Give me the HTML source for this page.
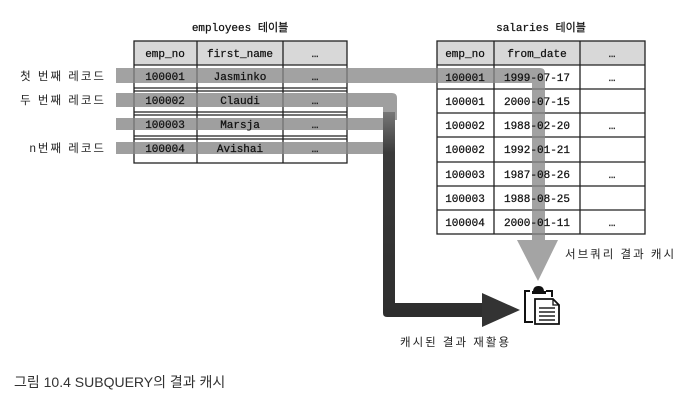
<!DOCTYPE html>
<html><head><meta charset="utf-8"><style>
html,body{margin:0;padding:0;background:#fff;}
svg{display:block;}
.m{font-family:"Liberation Mono","DejaVu Sans Mono",monospace;font-size:11px;fill:#111;stroke:#111;stroke-width:0.25;}
.k{font-family:"Liberation Sans","Noto Sans CJK KR",sans-serif;font-size:11.5px;fill:#222;letter-spacing:2px;}
</style></head><body>
<svg width="692" height="404" viewBox="0 0 692 404" xmlns="http://www.w3.org/2000/svg">
<defs>
<linearGradient id="dg" x1="0" y1="0" x2="0" y2="1">
<stop offset="0" stop-color="#777"/><stop offset="0.2" stop-color="#3a3a3a"/><stop offset="1" stop-color="#2e2e2e"/>
</linearGradient>
</defs>
<text x="240" y="31" text-anchor="middle" class="m" style="font-family:'Liberation Mono','Noto Sans CJK KR',monospace">employees 테이블</text>
<text x="541" y="31" text-anchor="middle" class="m" style="font-family:'Liberation Mono','Noto Sans CJK KR',monospace">salaries 테이블</text>

<rect x="134" y="41" width="213" height="24" fill="#d8d8d8"/>
<g stroke="#222" stroke-width="1.3" fill="none">
<rect x="134" y="41" width="213" height="122"/>
<line x1="134" y1="65" x2="347" y2="65"/>
<line x1="134" y1="88" x2="347" y2="88"/><line x1="134" y1="91" x2="347" y2="91"/>
<line x1="134" y1="112" x2="347" y2="112"/><line x1="134" y1="115" x2="347" y2="115"/>
<line x1="134" y1="136" x2="347" y2="136"/><line x1="134" y1="139" x2="347" y2="139"/>
<line x1="197" y1="41" x2="197" y2="163"/><line x1="283" y1="41" x2="283" y2="163"/>
</g>
<rect x="437" y="41" width="208" height="24" fill="#d8d8d8"/>
<g stroke="#222" stroke-width="1.3" fill="none">
<rect x="437" y="41" width="208" height="193"/>
<line x1="437" y1="65" x2="645" y2="65"/>
<line x1="437" y1="89" x2="645" y2="89"/>
<line x1="437" y1="113" x2="645" y2="113"/>
<line x1="437" y1="137" x2="645" y2="137"/>
<line x1="437" y1="162" x2="645" y2="162"/>
<line x1="437" y1="186" x2="645" y2="186"/>
<line x1="437" y1="210" x2="645" y2="210"/>
<line x1="494" y1="41" x2="494" y2="234"/><line x1="580" y1="41" x2="580" y2="234"/>
</g>

<g opacity="0.78">
<path d="M116 68 H540 Q545 68 545 73 V242 H532 V83 H116 Z" fill="#888"/>
</g>
<polygon points="517,240 558,240 538,281" fill="#a4a4a4"/>
<g opacity="0.8">
<path d="M116 93 H392 Q397 93 397 98 V120 H383 V107 H116 Z" fill="#888"/>
<rect x="116" y="118" width="270" height="12" fill="#888"/>
<rect x="116" y="142" width="270" height="12" fill="#888"/>
</g>
<path d="M383 112 H395 V303 H484 V317 H387 Q383 317 383 313 Z" fill="url(#dg)"/>
<polygon points="482,293 520,310 482,327" fill="#333"/>

<g class="m" text-anchor="middle">
<text x="165" y="57">emp_no</text><text x="240" y="57">first_name</text><text x="315" y="57">…</text>
<text x="165" y="80">100001</text><text x="240" y="80">Jasminko</text><text x="315" y="80">…</text>
<text x="165" y="104">100002</text><text x="240" y="104">Claudi</text><text x="315" y="104">…</text>
<text x="165" y="128">100003</text><text x="240" y="128">Marsja</text><text x="315" y="128">…</text>
<text x="165" y="152">100004</text><text x="240" y="152">Avishai</text><text x="315" y="152">…</text>

<text x="465" y="57">emp_no</text><text x="537" y="57">from_date</text><text x="612" y="57">…</text>
<text x="465" y="81">100001</text><text x="537" y="81">1999-07-17</text><text x="612" y="81">…</text>
<text x="465" y="105">100001</text><text x="537" y="105">2000-07-15</text>
<text x="465" y="129">100002</text><text x="537" y="129">1988-02-20</text><text x="612" y="129">…</text>
<text x="465" y="153">100002</text><text x="537" y="153">1992-01-21</text>
<text x="465" y="178">100003</text><text x="537" y="178">1987-08-26</text><text x="612" y="178">…</text>
<text x="465" y="202">100003</text><text x="537" y="202">1988-08-25</text>
<text x="465" y="226">100004</text><text x="537" y="226">2000-01-11</text><text x="612" y="226">…</text>
</g>

<g class="k" text-anchor="end">
<text x="106" y="80">첫 번째 레코드</text>
<text x="106" y="104">두 번째 레코드</text>
<text x="106" y="152">n번째 레코드</text>
</g>
<text x="565" y="258" class="k">서브쿼리 결과 캐시</text>
<text x="400" y="346" class="k">캐시된 결과 재활용</text>

<g fill="none" stroke="#111" stroke-width="2">
<path d="M530 291 H525 V322 H533"/>
<path d="M546 291 H552 V297"/>
</g>
<path d="M533 292 Q533 286 538.5 286 Q544 286 544 292 Z" fill="#111"/>
<rect x="532" y="291" width="14" height="3" fill="#111"/>
<path d="M535 299 H553 L559 305 V324 H535 Z" fill="#fff" stroke="#111" stroke-width="1.8"/>
<path d="M553 299 V305 H559" fill="none" stroke="#111" stroke-width="1.3"/>
<g stroke="#111" stroke-width="1.4"><line x1="539" y1="308" x2="555" y2="308"/><line x1="539" y1="312" x2="555" y2="312"/><line x1="539" y1="316" x2="555" y2="316"/><line x1="539" y1="320" x2="555" y2="320"/></g>

<text x="14" y="387" style="font-family:'Liberation Sans','Noto Sans CJK KR',sans-serif;font-size:14px;fill:#333;">그림 10.4 SUBQUERY의 결과 캐시</text>
</svg>
</body></html>
